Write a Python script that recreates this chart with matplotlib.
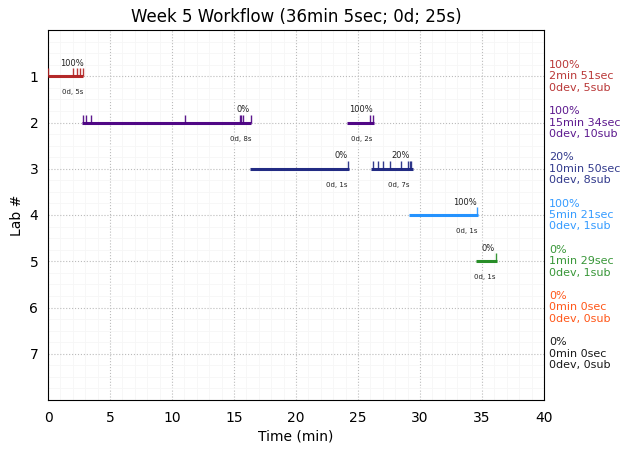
import matplotlib
matplotlib.use("Agg")
import matplotlib.pyplot as plt
import numpy as np

labs = [1, 2, 3, 4, 5, 6, 7]
colors = ["firebrick", "indigo", "#1c2580", "dodgerblue", "forestgreen", "orangered", "black"]
summaries = [
    "100%\n2min 51sec\n0dev, 5sub",
    "100%\n15min 34sec\n0dev, 10sub",
    "20%\n10min 50sec\n0dev, 8sub",
    "100%\n5min 21sec\n0dev, 1sub",
    "0%\n1min 29sec\n0dev, 1sub",
    "0%\n0min 0sec\n0dev, 0sub",
    "0%\n0min 0sec\n0dev, 0sub",
]

# one entry per work session: lab, start, end, submissions
session_lab = [1, 2, 2, 3, 3, 4, 5]
session_start = [0.0, 2.75, 24.1, 16.25, 26.05, 29.15, 34.5]
session_end = [2.85, 16.4, 26.3, 24.3, 29.4, 34.7, 36.2]
session_subs = [
    [0.03, 2.0, 2.33, 2.57, 2.81],
    [2.81, 3.05, 3.45, 11.03, 15.5, 15.6, 15.74, 16.36],
    [26.0, 26.2],
    [24.2],
    [26.2, 26.6, 27.0, 27.6, 28.5, 29.0, 29.2, 29.3],
    [34.6],
    [36.1],
]
session_pct = ["100%", "0%", "100%", "0%", "20%", "100%", "0%"]
session_time = ["0d, 5s", "0d, 8s", "0d, 2s", "0d, 1s", "0d, 7s", "0d, 1s", "0d, 1s"]
pct_x = [1.9, 15.75, 25.2, 23.6, 28.4, 33.6, 35.5]
time_x = [2.0, 15.55, 25.3, 23.25, 28.25, 33.75, 35.2]

fig = plt.figure(figsize=(6.3, 4.53), dpi=100)
ax = fig.add_axes([48 / 630, 1 - 400 / 453, (544 - 48) / 630, 370 / 453])

for i in range(len(session_lab)):
    lab = session_lab[i]
    c = colors[lab - 1]
    ax.plot([session_start[i], session_end[i]], [lab, lab], color=c, lw=2.2, alpha=0.97,
            solid_capstyle="butt", zorder=3)
    ax.vlines(session_subs[i], lab - 0.17, lab, color=c, lw=1, alpha=0.9, zorder=3)
    ax.text(pct_x[i], lab - 0.28, session_pct[i], fontsize=6, ha="center", va="center", color="#222222")
    ax.text(time_x[i], lab + 0.35, session_time[i], fontsize=5, ha="center", va="center", color="#222222")

for lab, c, s in zip(labs, colors, summaries):
    ax.text(40.4, lab, s, fontsize=8, color=c, alpha=0.9, ha="left", va="center",
            linespacing=1.17, clip_on=False)

ax.set_xlim(0, 40)
ax.set_ylim(8, 0)
ax.set_xticks(np.arange(0, 41, 5))
ax.set_yticks(labs)
ax.set_xticks(np.arange(0, 41, 1), minor=True)
ax.set_yticks(np.arange(0, 8.01, 0.25), minor=True)
ax.grid(True, which="major", color="#bbbbbb", ls=":", lw=0.8)
ax.grid(True, which="minor", color="#f6f6f6", ls="-", lw=0.6)
ax.set_axisbelow(True)
ax.tick_params(which="both", length=0)
ax.tick_params(axis="x", which="major", pad=8, labelsize=10)
ax.tick_params(axis="y", which="major", pad=7, labelsize=10)

ax.set_xlabel("Time (min)", fontsize=10, labelpad=3)
ax.set_ylabel("Lab #", fontsize=10)
ax.set_title("Week 5 Workflow (36min 5sec; 0d; 25s)", fontsize=12)

fig.savefig("out.png", dpi=100)
